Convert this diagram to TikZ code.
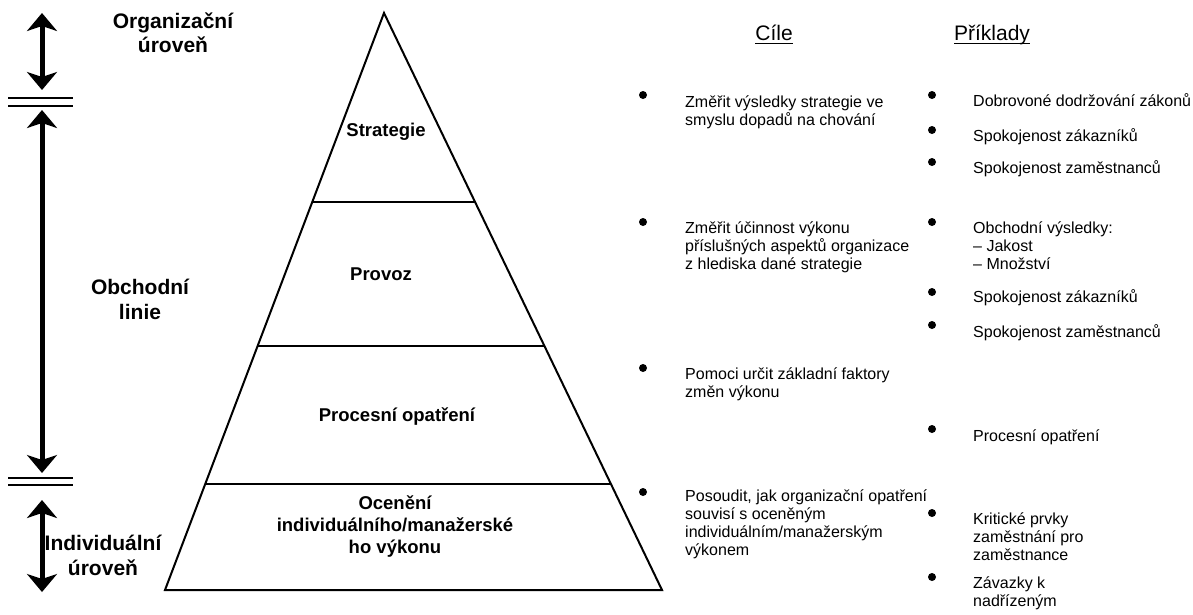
\documentclass[tikz,border=0pt]{standalone}
\usepackage{fontspec}
\setmainfont{Liberation Sans}
\usetikzlibrary{arrows.meta,calc}
\newcommand\myul[1]{\setbox0\hbox{#1}\rlap{\rule[-4pt]{\wd0}{1.4pt}}\box0}
\begin{document}
\begin{tikzpicture}[x=1pt,y=-1pt,
 lbl/.style={font=\bfseries\fontsize{21}{24.5}\selectfont, align=center, anchor=base, inner sep=0},
 plbl/.style={font=\bfseries\fontsize{18.5}{22}\selectfont, align=center, anchor=base, inner sep=0},
 body/.style={font=\fontsize{16}{18}\selectfont, align=left, anchor=base west, inner sep=0},
 hdr/.style={font=\fontsize{21}{24}\selectfont, anchor=base, inner sep=0},
 bulletdot/.style={circle, fill=black, inner sep=0, minimum size=8pt},
 pyr/.style={line width=2pt, line join=miter},
 dblline/.style={line width=2pt},
 bigarrow/.style={line width=5pt, {Stealth[length=18pt,width=30pt,inset=5pt]}-{Stealth[length=18pt,width=30pt,inset=5pt]}}
]
\useasboundingbox (0,0) rectangle (1193,614);

% left arrows
\coordinate (a1t) at (42,13);  \coordinate (a1b) at (42,90);
\coordinate (a2t) at (42,110); \coordinate (a2b) at (42,473);
\coordinate (a3t) at (42,500); \coordinate (a3b) at (42,592);
\draw[bigarrow] (a1t) -- (a1b);
\draw[bigarrow] (a2t) -- (a2b);
\draw[bigarrow] (a3t) -- (a3b);
\coordinate (d1a) at (8,98);  \coordinate (d1b) at (73,98);
\coordinate (d2a) at (8,106); \coordinate (d2b) at (73,106);
\coordinate (d3a) at (8,478); \coordinate (d3b) at (73,478);
\coordinate (d4a) at (8,485); \coordinate (d4b) at (73,485);
\draw[dblline] (d1a) -- (d1b);
\draw[dblline] (d2a) -- (d2b);
\draw[dblline] (d3a) -- (d3b);
\draw[dblline] (d4a) -- (d4b);

% multi-line nodes: base anchor = baseline of the last line
\node[lbl] (org) at (173,52.5) {Organizační\\úroveň};
\node[lbl] (obch) at (140,319) {Obchodní\\linie};
\node[lbl] (ind) at (103,575) {Individuální\\úroveň};

% pyramid
\coordinate (A) at (384,13);
\coordinate (BL) at (165,590);
\coordinate (BR) at (662,590);
\draw[pyr] (BL) -- (A) -- (BR) -- cycle;
\coordinate (L1) at ($(A)!0.3276!(BL)$); \coordinate (R1) at ($(A)!0.3276!(BR)$);
\coordinate (L2) at ($(A)!0.5771!(BL)$); \coordinate (R2) at ($(A)!0.5771!(BR)$);
\coordinate (L3) at ($(A)!0.8163!(BL)$); \coordinate (R3) at ($(A)!0.8163!(BR)$);
\draw[pyr] (L1) -- (R1);
\draw[pyr] (L2) -- (R2);
\draw[pyr] (L3) -- (R3);

\node[plbl] (strat) at (386,136) {Strategie};
\node[plbl] (prov) at (381,280) {Provoz};
\node[plbl] (proc) at (397,421) {Procesní opatření};
\node[plbl] (ocen) at (395,553) {Ocenění\\individuálního/manažerské\\ho výkonu};

% headers
\node[hdr] (hcile) at (774,40) {\myul{Cíle}};
\node[hdr] (hprik) at (992,40) {\myul{Příklady}};

% Cíle column
\node[bulletdot] (c1) at (643,95) {};
\node[bulletdot] (c2) at (643,222) {};
\node[bulletdot] (c3) at (643,368) {};
\node[bulletdot] (c4) at (643,492) {};
\node[body] (tc1) at (685,125) {Změřit výsledky strategie ve\\smyslu dopadů na chování};
\node[body] (tc2) at (685,269) {Změřit účinnost výkonu\\příslušných aspektů organizace\\z hlediska dané strategie};
\node[body] (tc3) at (685,397) {Pomoci určit základní faktory\\změn výkonu};
\node[body] (tc4) at (685,555) {Posoudit, jak organizační opatření\\souvisí s oceněným\\individuálním/manažerským\\výkonem};

% Příklady column
\node[bulletdot] (p1) at (932,95) {};
\node[bulletdot] (p2) at (932,130) {};
\node[bulletdot] (p3) at (932,162) {};
\node[bulletdot] (p4) at (932,222) {};
\node[bulletdot] (p5) at (932,292) {};
\node[bulletdot] (p6) at (932,325) {};
\node[bulletdot] (p7) at (932,429) {};
\node[bulletdot] (p8) at (932,513) {};
\node[bulletdot] (p9) at (932,577) {};
\node[body] (tp1) at (973,106) {Dobrovoné dodržování zákonů};
\node[body] (tp2) at (973,141) {Spokojenost zákazníků};
\node[body] (tp3) at (973,173) {Spokojenost zaměstnanců};
\node[body] (tp4) at (973,269) {Obchodní výsledky:\\– Jakost\\– Množství};
\node[body] (tp5) at (973,302) {Spokojenost zákazníků};
\node[body] (tp6) at (973,337) {Spokojenost zaměstnanců};
\node[body] (tp7) at (973,441) {Procesní opatření};
\node[body] (tp8) at (973,560) {Kritické prvky\\zaměstnání pro\\zaměstnance};
\node[body] (tp9) at (973,606) {Závazky k\\nadřízeným};
\end{tikzpicture}
\end{document}
